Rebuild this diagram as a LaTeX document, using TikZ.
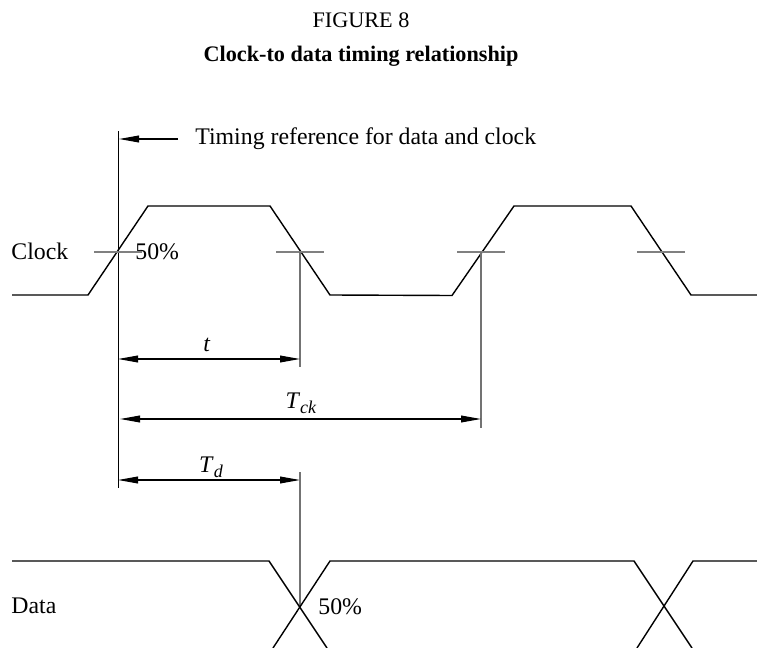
\documentclass[tikz,border=0pt]{standalone}
\usepackage{fontspec}
\setmainfont{Liberation Serif}
\usetikzlibrary{arrows.meta}
\begin{document}
\begin{tikzpicture}[x=0.5pt,y=-0.5pt,
  wave/.style={line width=0.7pt,black},
  guide/.style={line width=0.7pt,black!55},
  tickmark/.style={line width=0.9pt,black!50},
  dim/.style={line width=0.6pt,black,{Triangle[length=10pt,width=3.4pt]}-{Triangle[length=10pt,width=3.4pt]}},
  lbl/.style={inner sep=0pt,font=\fontsize{11.9}{14}\selectfont}]
\useasboundingbox (0,0) rectangle (757,648);
% titles
\node[lbl,font=\fontsize{11.1}{13}\selectfont] (fig) at (361,20) {FIGURE 8};
\node[lbl,font=\fontsize{11.1}{13}\selectfont\bfseries] (ttl) at (361,56) {Clock-to data timing relationship};
% reference line
\coordinate (reftop) at (118,131);
\coordinate (refbot) at (118,488);
\draw[line width=0.5pt] (reftop) -- (refbot);
\node[lbl,anchor=west] (refnote) at (195,139) {Timing reference for data and clock};
\coordinate (refarrowstart) at (178,139);
\coordinate (refarrowend) at (119,139);
\draw[line width=0.6pt,-{Triangle[length=10pt,width=3.4pt]}] (refarrowstart) -- (refarrowend);
% clock waveform
\draw[wave] (12,295) -- (88,295) -- (148,206) -- (270,206) -- (330,295) -- (452,295.5) -- (514,206) -- (631,206) -- (691,295) -- (757,295);
\node[lbl,anchor=west] (clk) at (11,251) {Clock};
\node[lbl,anchor=west] (p50a) at (135,252) {50\%};
% ticks at 50%
\coordinate (c1) at (118,252);
\coordinate (c2) at (300,252);
\coordinate (c3) at (481,252);
\coordinate (c4) at (661,252);
\foreach \c in {c1,c2,c3,c4}{\draw[tickmark] ([xshift=-12]\c) -- ([xshift=12]\c);}
% guide lines
\coordinate (g1) at (300,367);
\coordinate (g2) at (481,428);
\draw[guide] (c2) -- (g1);
\draw[guide] (c3) -- (g2);
% dimension arrows
\coordinate (ta) at (118,359);
\coordinate (tb) at (300,359);
\draw[dim] (ta) -- (tb);
\node[lbl] (tlab) at (207,345) {\textit{t}};
\coordinate (cka) at (120,419);
\coordinate (ckb) at (481,419);
\draw[dim] (cka) -- (ckb);
\node[lbl] (cklab) at (301,403) {\textit{T}\raisebox{-0.45ex}{\fontsize{9}{10}\selectfont\textit{ck}}};
\coordinate (tda) at (118,480);
\coordinate (tdb) at (300,480);
\draw[dim] (tda) -- (tdb);
\node[lbl] (tdlab) at (211,467) {\textit{T}\raisebox{-0.45ex}{\fontsize{9}{10}\selectfont\textit{d}}};
% data guide
\coordinate (dtop) at (300,472);
\coordinate (dx) at (300,606);
\draw[guide] (dtop) -- (dx);
% data waveform
\draw[wave] (12,561) -- (269,561) -- (327,648);
\draw[wave] (273,648) -- (330,561) -- (634,561) -- (692,648);
\draw[wave] (637,648) -- (693,561) -- (757,561);
\node[lbl,anchor=west] (dat) at (11,606) {Data};
\node[lbl,anchor=west] (p50b) at (318,607) {50\%};
\end{tikzpicture}
\end{document}
